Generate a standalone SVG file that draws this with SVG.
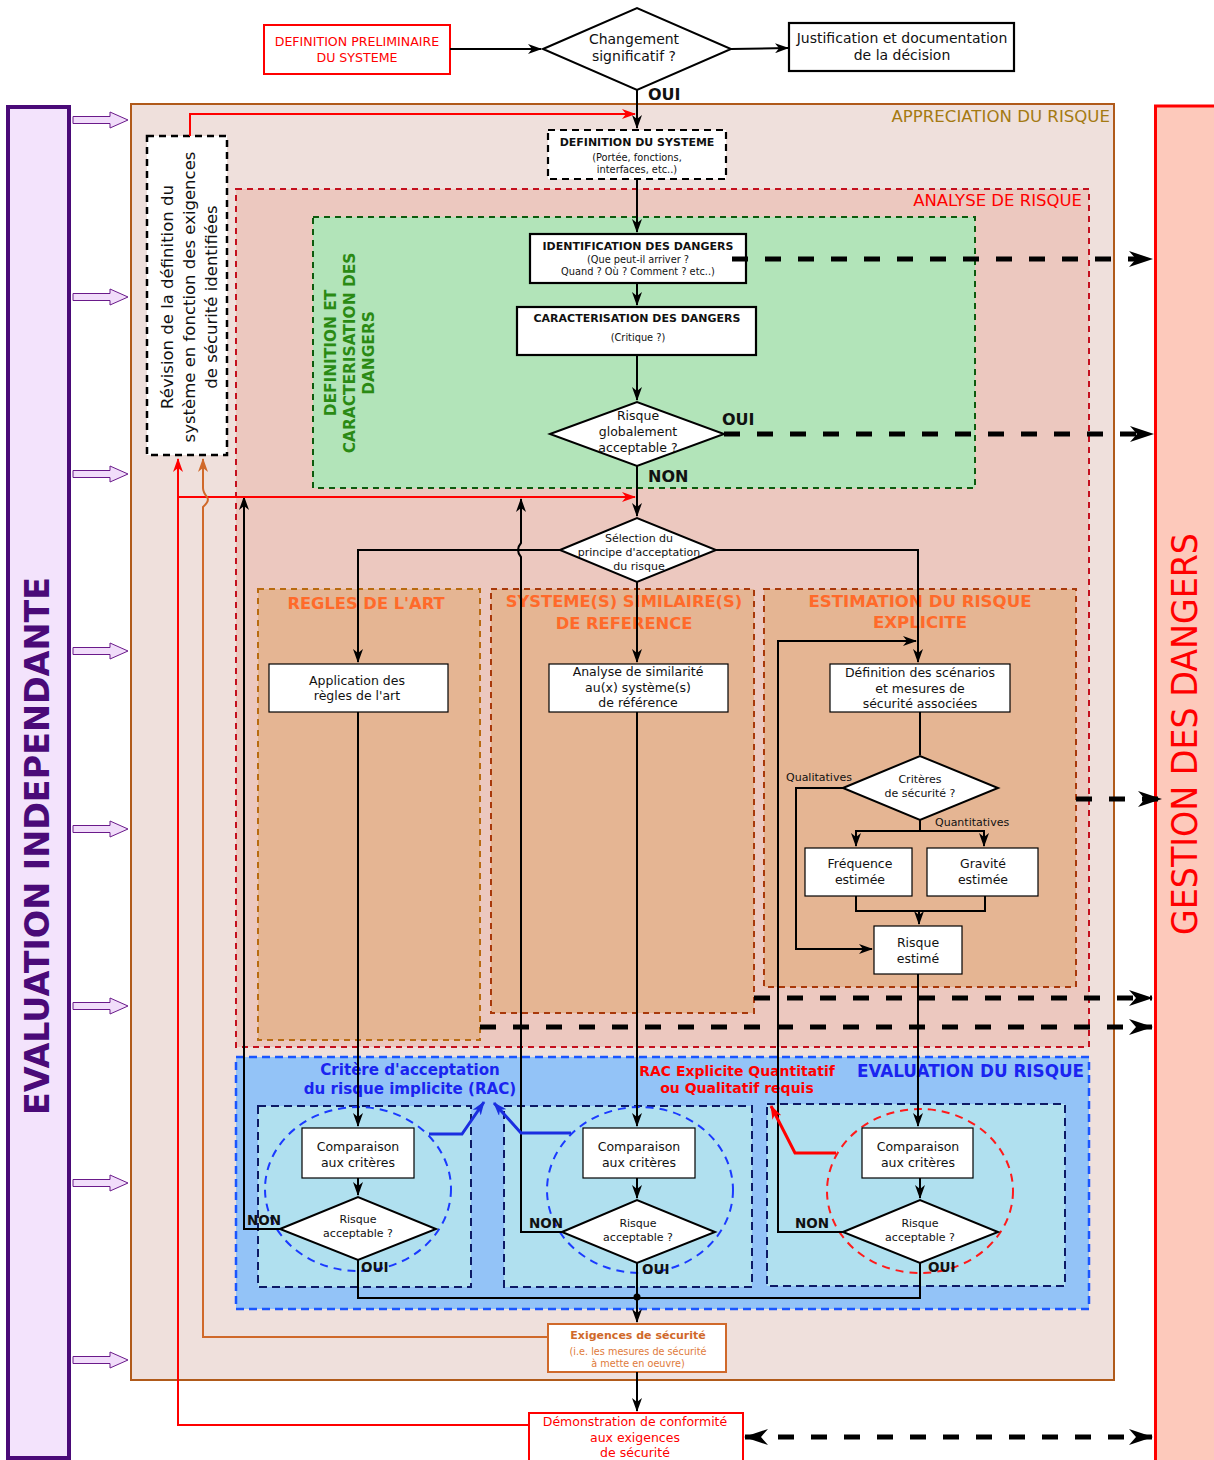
<svg xmlns="http://www.w3.org/2000/svg" width="1214" height="1460" viewBox="0 0 1214 1460">
<style>
text{font-family:"DejaVu Sans","Liberation Sans",sans-serif;fill:#111}
.c{text-anchor:middle}
.b{font-weight:bold}
.box{fill:#fff;stroke:#000;stroke-width:1.2}
.box2{fill:#fff;stroke:#000;stroke-width:2.2}
.ln{fill:none;stroke:#000;stroke-width:2}
.thk{fill:none;stroke:#000;stroke-width:5;stroke-dasharray:16 17}
.pa{fill:#f1ddfa;stroke:#6a1a8a;stroke-width:1}
</style>
<defs>
<marker id="ah" viewBox="0 0 14 10" refX="13" refY="5" markerWidth="14" markerHeight="10" markerUnits="userSpaceOnUse" orient="auto"><path d="M0,0 L14,5 L0,10 L4,5 z" fill="#000"/></marker>
<marker id="ahr" viewBox="0 0 14 10" refX="13" refY="5" markerWidth="14" markerHeight="10" markerUnits="userSpaceOnUse" orient="auto"><path d="M0,0 L14,5 L0,10 L4,5 z" fill="#f00"/></marker>
<marker id="aho" viewBox="0 0 14 10" refX="13" refY="5" markerWidth="14" markerHeight="10" markerUnits="userSpaceOnUse" orient="auto"><path d="M0,0 L14,5 L0,10 L4,5 z" fill="#d0692a"/></marker>
<marker id="ahb" viewBox="0 0 14 10" refX="13" refY="5" markerWidth="14" markerHeight="10" markerUnits="userSpaceOnUse" orient="auto"><path d="M0,0 L14,5 L0,10 L4,5 z" fill="#1a2ee0"/></marker>
<marker id="ahR" viewBox="0 0 14 10" refX="13" refY="5" markerWidth="14" markerHeight="10" markerUnits="userSpaceOnUse" orient="auto"><path d="M0,0 L14,5 L0,10 L4,5 z" fill="#f00"/></marker>
<marker id="big" viewBox="0 0 24 16" refX="23" refY="8" markerWidth="24" markerHeight="16" markerUnits="userSpaceOnUse" orient="auto-start-reverse"><path d="M0,0 L24,8 L0,16 L7,8 z" fill="#000"/></marker>
</defs>

<!-- side bars -->
<g id="evaluation-independante">
<rect x="8" y="107" width="61" height="1351" fill="#f3e3fc" stroke="#4a0a78" stroke-width="4"/>
<text transform="translate(49,846) rotate(-90)" class="c b" font-size="33" style="fill:#4a0a78" textLength="538" lengthAdjust="spacingAndGlyphs">EVALUATION INDEPENDANTE</text>
</g>
<g id="purple-arrows">
<path class="pa" d="M73,116.5 H110 V112 L128,120 L110,128 V123.5 H73 Z"/>
<path class="pa" d="M73,293.5 H110 V289 L128,297 L110,305 V300.5 H73 Z"/>
<path class="pa" d="M73,470.5 H110 V466 L128,474 L110,482 V477.5 H73 Z"/>
<path class="pa" d="M73,647.5 H110 V643 L128,651 L110,659 V654.5 H73 Z"/>
<path class="pa" d="M73,825.5 H110 V821 L128,829 L110,837 V832.5 H73 Z"/>
<path class="pa" d="M73,1002.5 H110 V998 L128,1006 L110,1014 V1009.5 H73 Z"/>
<path class="pa" d="M73,1179.5 H110 V1175 L128,1183 L110,1191 V1186.5 H73 Z"/>
<path class="pa" d="M73,1356.5 H110 V1352 L128,1360 L110,1368 V1363.5 H73 Z"/>
</g>
<g id="gestion-des-dangers">
<rect x="1155.5" y="106" width="62" height="1358" fill="#fdc9bb" stroke="#ff0000" stroke-width="3"/>
<text transform="translate(1197,734) rotate(-90)" class="c" font-size="36" style="fill:#ff0000" textLength="402" lengthAdjust="spacingAndGlyphs">GESTION DES DANGERS</text>
</g>

<!-- containers -->
<g id="appreciation-du-risque">
<rect x="131" y="104" width="983" height="1276" fill="#efe0dc" stroke="#b05a1a" stroke-width="2"/>
<text x="1110" y="122" font-size="16.6" text-anchor="end" style="fill:#a47a12">APPRECIATION DU RISQUE</text>
</g>
<g id="analyse-de-risque">
<rect x="236" y="189" width="853" height="858" fill="#ecc8bf" stroke="#c4101e" stroke-width="2" stroke-dasharray="6 5"/>
<text x="1082" y="206" font-size="16.5" text-anchor="end" style="fill:#ff0000">ANALYSE DE RISQUE</text>
</g>
<g id="definition-caracterisation">
<rect x="313" y="217" width="662" height="271" fill="#b2e4b9" stroke="#0d5a0d" stroke-width="2" stroke-dasharray="6 5"/>
<text transform="translate(336,353) rotate(-90)" class="c b" font-size="15.4" style="fill:#2a8a14">DEFINITION ET</text>
<text transform="translate(355,353) rotate(-90)" class="c b" font-size="15.4" style="fill:#2a8a14">CARACTERISATION DES</text>
<text transform="translate(374,353) rotate(-90)" class="c b" font-size="15.4" style="fill:#2a8a14">DANGERS</text>
</g>
<g id="regles-de-l-art">
<rect x="258" y="589" width="222" height="451" fill="#e5b593" stroke="#b86a10" stroke-width="2" stroke-dasharray="6 5"/>
<text x="366" y="609" class="c b" font-size="16.3" style="fill:#ff6a2a">REGLES DE L'ART</text>
</g>
<g id="systemes-similaires">
<rect x="491" y="589" width="263" height="424" fill="#e5b593" stroke="#a8380a" stroke-width="2" stroke-dasharray="6 5"/>
<text x="624" y="607" class="c b" font-size="16.3" style="fill:#ff6a2a">SYSTEME(S) SIMILAIRE(S)</text>
<text x="624" y="629" class="c b" font-size="16.3" style="fill:#ff6a2a">DE REFERENCE</text>
</g>
<g id="estimation-du-risque">
<rect x="764" y="589" width="312" height="398" fill="#e5b593" stroke="#a8380a" stroke-width="2" stroke-dasharray="6 5"/>
<text x="920" y="607" class="c b" font-size="16.6" style="fill:#ff6a2a">ESTIMATION DU RISQUE</text>
<text x="920" y="628" class="c b" font-size="16.6" style="fill:#ff6a2a">EXPLICITE</text>
</g>
<g id="evaluation-du-risque">
<rect x="236" y="1057" width="853" height="252" fill="#93c3f7" stroke="#1a55ff" stroke-width="2.5" stroke-dasharray="8 5"/>
<text x="1084" y="1077" font-size="16.8" text-anchor="end" class="b" style="fill:#1a24f0">EVALUATION DU RISQUE</text>
<text x="410" y="1075" class="c b" font-size="15.1" style="fill:#1a24f0">Critère d'acceptation</text>
<text x="410" y="1094" class="c b" font-size="15.1" style="fill:#1a24f0">du risque implicite (RAC)</text>
<text x="737" y="1076" class="c b" font-size="14" style="fill:#ff0000">RAC Explicite Quantitatif</text>
<text x="737" y="1093" class="c b" font-size="14" style="fill:#ff0000">ou Qualitatif requis</text>
<rect x="258" y="1106" width="213" height="181" fill="#b0e0ef" stroke="#0d1a66" stroke-width="2" stroke-dasharray="8 5"/>
<rect x="504" y="1106" width="248" height="181" fill="#b0e0ef" stroke="#0d1a66" stroke-width="2" stroke-dasharray="8 5"/>
<rect x="767" y="1104" width="298" height="182" fill="#b0e0ef" stroke="#0d1a66" stroke-width="2" stroke-dasharray="8 5"/>
<ellipse cx="358" cy="1189" rx="93" ry="82" fill="none" stroke="#1a3aff" stroke-width="2" stroke-dasharray="8 6"/>
<ellipse cx="640" cy="1190" rx="93" ry="83" fill="none" stroke="#1a3aff" stroke-width="2" stroke-dasharray="8 6"/>
<ellipse cx="920" cy="1191" rx="93" ry="82" fill="none" stroke="#ff1a1a" stroke-width="2" stroke-dasharray="8 6"/>
</g>

<!-- nodes -->
<g id="definition-preliminaire">
<rect x="264" y="25" width="186" height="49" fill="#fff" stroke="#ff0000" stroke-width="2"/>
<text x="357" y="46" class="c" font-size="12.6" style="fill:#ff0000">DEFINITION PRELIMINAIRE</text>
<text x="357" y="62" class="c" font-size="12.6" style="fill:#ff0000">DU SYSTEME</text>
</g>
<g id="changement-significatif">
<path d="M543,49 L637,8 L731,49 L637,90 Z" fill="#fff" stroke="#000" stroke-width="2"/>
<text x="634" y="44" class="c" font-size="14">Changement</text>
<text x="634" y="61" class="c" font-size="14">significatif ?</text>
</g>
<g id="justification">
<rect x="789" y="23" width="225" height="48" class="box2"/>
<text x="902" y="43" class="c" font-size="14">Justification et documentation</text>
<text x="902" y="60" class="c" font-size="14">de la décision</text>
</g>
<g id="revision">
<rect x="147" y="136" width="80" height="319" fill="#fff" stroke="#000" stroke-width="2.5" stroke-dasharray="7 5"/>
<text transform="translate(173,297) rotate(-90)" class="c" font-size="16.5">Révision de la définition du</text>
<text transform="translate(195,297) rotate(-90)" class="c" font-size="16.5">système en fonction des exigences</text>
<text transform="translate(217,297) rotate(-90)" class="c" font-size="16.5">de sécurité identifiées</text>
</g>
<g id="definition-du-systeme">
<rect x="548" y="130" width="178" height="49" fill="#fff" stroke="#000" stroke-width="2.2" stroke-dasharray="7 5"/>
<text x="637" y="146" class="c b" font-size="11">DEFINITION DU SYSTEME</text>
<text x="637" y="160.5" class="c" font-size="9.8">(Portée, fonctions,</text>
<text x="637" y="173" class="c" font-size="9.8">interfaces, etc..)</text>
</g>
<g id="identification">
<rect x="530" y="234" width="216" height="49" class="box2"/>
<text x="638" y="250" class="c b" font-size="11">IDENTIFICATION DES DANGERS</text>
<text x="638" y="263" class="c" font-size="9.8">(Que peut-il arriver ?</text>
<text x="638" y="275" class="c" font-size="9.8">Quand ? Où ? Comment ? etc..)</text>
</g>
<g id="caracterisation">
<rect x="517" y="307" width="239" height="48" class="box2"/>
<text x="637" y="322" class="c b" font-size="11">CARACTERISATION DES DANGERS</text>
<text x="638" y="341" class="c" font-size="9.8">(Critique ?)</text>
</g>
<g id="risque-globalement">
<path d="M550,434 L637,402 L724,434 L637,466 Z" fill="#fff" stroke="#000" stroke-width="2"/>
<text x="638" y="420" class="c" font-size="12.5">Risque</text>
<text x="638" y="436" class="c" font-size="12.5">globalement</text>
<text x="638" y="452" class="c" font-size="12.5">acceptable ?</text>
</g>
<g id="selection-principe">
<path d="M560,550 L637,518 L716,550 L637,582 Z" fill="#fff" stroke="#000" stroke-width="2"/>
<text x="639" y="542" class="c" font-size="11">Sélection du</text>
<text x="639" y="556" class="c" font-size="11">principe d'acceptation</text>
<text x="639" y="570" class="c" font-size="11">du risque</text>
</g>
<g id="application-regles">
<rect x="269" y="664" width="179" height="48" class="box"/>
<text x="357" y="685" class="c" font-size="12.5">Application des</text>
<text x="357" y="700" class="c" font-size="12.5">règles de l'art</text>
</g>
<g id="analyse-similarite">
<rect x="549" y="664" width="179" height="48" class="box"/>
<text x="638" y="676" class="c" font-size="12.5">Analyse de similarité</text>
<text x="638" y="692" class="c" font-size="12.5">au(x) système(s)</text>
<text x="638" y="707" class="c" font-size="12.5">de référence</text>
</g>
<g id="definition-scenarios">
<rect x="830" y="664" width="180" height="48" class="box"/>
<text x="920" y="677" class="c" font-size="12.5">Définition des scénarios</text>
<text x="920" y="693" class="c" font-size="12.5">et mesures de</text>
<text x="920" y="708" class="c" font-size="12.5">sécurité associées</text>
</g>
<g id="criteres-securite">
<path d="M843,788 L920,756 L998,788 L920,820 Z" fill="#fff" stroke="#000" stroke-width="2"/>
<text x="920" y="783" class="c" font-size="11">Critères</text>
<text x="920" y="797" class="c" font-size="11">de sécurité ?</text>
<text x="786" y="781" font-size="11">Qualitatives</text>
<text x="935" y="826" font-size="11">Quantitatives</text>
</g>
<g id="frequence">
<rect x="805" y="848" width="107" height="48" class="box"/>
<text x="860" y="868" class="c" font-size="12.5">Fréquence</text>
<text x="860" y="884" class="c" font-size="12.5">estimée</text>
</g>
<g id="gravite">
<rect x="927" y="848" width="111" height="48" class="box"/>
<text x="983" y="868" class="c" font-size="12.5">Gravité</text>
<text x="983" y="884" class="c" font-size="12.5">estimée</text>
</g>
<g id="risque-estime">
<rect x="874" y="926" width="88" height="48" class="box"/>
<text x="918" y="947" class="c" font-size="12.5">Risque</text>
<text x="918" y="963" class="c" font-size="12.5">estimé</text>
</g>
<g id="comparaison-1">
<rect x="302" y="1128" width="112" height="50" class="box"/>
<text x="358" y="1151" class="c" font-size="12.5">Comparaison</text>
<text x="358" y="1167" class="c" font-size="12.5">aux critères</text>
</g>
<g id="acceptable-1">
<path d="M280,1229 L358,1197 L436,1229 L358,1260 Z" fill="#fff" stroke="#000" stroke-width="2"/>
<text x="358" y="1223" class="c" font-size="11">Risque</text>
<text x="358" y="1237" class="c" font-size="11">acceptable ?</text>
</g>
<g id="comparaison-2">
<rect x="583" y="1128" width="112" height="50" class="box"/>
<text x="639" y="1151" class="c" font-size="12.5">Comparaison</text>
<text x="639" y="1167" class="c" font-size="12.5">aux critères</text>
</g>
<g id="acceptable-2">
<path d="M562,1232 L637,1200 L715,1232 L637,1263 Z" fill="#fff" stroke="#000" stroke-width="2"/>
<text x="638" y="1227" class="c" font-size="11">Risque</text>
<text x="638" y="1241" class="c" font-size="11">acceptable ?</text>
</g>
<g id="comparaison-3">
<rect x="862" y="1128" width="111" height="50" class="box"/>
<text x="918" y="1151" class="c" font-size="12.5">Comparaison</text>
<text x="918" y="1167" class="c" font-size="12.5">aux critères</text>
</g>
<g id="acceptable-3">
<path d="M843,1232 L920,1200 L998,1232 L920,1263 Z" fill="#fff" stroke="#000" stroke-width="2"/>
<text x="920" y="1227" class="c" font-size="11">Risque</text>
<text x="920" y="1241" class="c" font-size="11">acceptable ?</text>
</g>
<g id="exigences">
<rect x="548" y="1324" width="178" height="48" fill="#fff" stroke="#d0692a" stroke-width="2"/>
<text x="638" y="1339" class="c b" font-size="11" style="fill:#d0692a">Exigences de sécurité</text>
<text x="638" y="1355" class="c" font-size="9.7" style="fill:#e07a3a">(i.e. les mesures de sécurité</text>
<text x="638" y="1367" class="c" font-size="9.7" style="fill:#e07a3a">à mette en oeuvre)</text>
</g>
<g id="demonstration">
<rect x="529" y="1413" width="214" height="52" fill="#fff" stroke="#ff0000" stroke-width="2"/>
<text x="635" y="1426" class="c" font-size="12.5" style="fill:#ff0000">Démonstration de conformité</text>
<text x="635" y="1442" class="c" font-size="12.5" style="fill:#ff0000">aux exigences</text>
<text x="635" y="1457" class="c" font-size="12.5" style="fill:#ff0000">de sécurité</text>
</g>

<!-- connectors -->
<g id="connectors">
<path class="ln" d="M450,49 H541" marker-end="url(#ah)"/>
<path class="ln" d="M731,49 L788,48" marker-end="url(#ah)"/>
<path class="ln" d="M637,90 V128" marker-end="url(#ah)"/>
<path class="ln" d="M637,179 V232" marker-end="url(#ah)"/>
<path class="ln" d="M637,283 V305" marker-end="url(#ah)"/>
<path class="ln" d="M637,355 V400" marker-end="url(#ah)"/>
<path class="ln" d="M637,466 V516" marker-end="url(#ah)"/>
<path class="ln" d="M560,550 H358 V662" marker-end="url(#ah)"/>
<path class="ln" d="M637,582 V662" marker-end="url(#ah)"/>
<path class="ln" d="M716,550 H918 V662" marker-end="url(#ah)"/>
<path class="ln" d="M358,712 V1126" marker-end="url(#ah)"/>
<path class="ln" d="M637,712 V1126" marker-end="url(#ah)"/>
<path class="ln" d="M920,712 V755"/>
<path class="ln" d="M843,788 H796 V949 H872" marker-end="url(#ah)"/>
<path class="ln" d="M920,820 V831 H856 V846" marker-end="url(#ah)"/>
<path class="ln" d="M920,831 H984 V846" marker-end="url(#ah)"/>
<path class="ln" d="M856,896 V911 H985 V896"/>
<path class="ln" d="M919,911 V924" marker-end="url(#ah)"/>
<path class="ln" d="M918,974 V1126" marker-end="url(#ah)"/>
<path class="ln" d="M358,1178 V1195" marker-end="url(#ah)"/>
<path class="ln" d="M637,1178 V1198" marker-end="url(#ah)"/>
<path class="ln" d="M920,1178 V1198" marker-end="url(#ah)"/>
<path class="ln" d="M280,1229 H244 V497" marker-end="url(#ah)"/>
<path class="ln" d="M562,1232 H521 V557 Q515,550 521,543 V499" marker-end="url(#ah)"/>
<path class="ln" d="M843,1232 H778 V641 H916" marker-end="url(#ah)"/>
<path class="ln" d="M358,1260 V1298 H920 V1263"/>
<path class="ln" d="M637,1263 V1322" marker-end="url(#ah)"/>
<circle cx="637" cy="1297" r="3.5" fill="#000"/>
<path class="ln" d="M637,1372 V1411" stroke-width="1.5" marker-end="url(#ah)"/>
<path d="M529,1425 H178 V459" fill="none" stroke="#ff0000" stroke-width="2" marker-end="url(#ahr)"/>
<path d="M178,497 H635" fill="none" stroke="#ff0000" stroke-width="2" marker-end="url(#ahr)"/>
<path d="M190,136 V114 H635" fill="none" stroke="#ff0000" stroke-width="2" marker-end="url(#ahr)"/>
<path d="M548,1337 H203 V507 Q210,501 207,497 Q203,492 203,488 V459" fill="none" stroke="#d0692a" stroke-width="2" marker-end="url(#aho)"/>
<path d="M429,1134 H462 L484,1102" fill="none" stroke="#1a2ee0" stroke-width="3" marker-end="url(#ahb)"/>
<path d="M571,1133 H521 L494,1103" fill="none" stroke="#1a2ee0" stroke-width="3" marker-end="url(#ahb)"/>
<path d="M836,1153 H795 L771,1106" fill="none" stroke="#ff0000" stroke-width="3" marker-end="url(#ahR)"/>
<path class="thk" d="M732,259 H1152" marker-end="url(#big)"/>
<path class="thk" d="M724,434 H1153" marker-end="url(#big)"/>
<path class="thk" d="M1076,799 H1161" marker-end="url(#big)"/>
<path class="thk" d="M754,998 H1152" marker-end="url(#big)"/>
<path class="thk" d="M480,1027 H1152" marker-end="url(#big)"/>
<path class="thk" d="M745,1437 H1152" marker-start="url(#big)" marker-end="url(#big)"/>
</g>

<!-- connector labels -->
<g id="labels">
<text x="648" y="100" font-size="16" class="b">OUI</text>
<text x="722" y="425" font-size="16" class="b">OUI</text>
<text x="648" y="482" font-size="16" class="b">NON</text>
<text x="247" y="1225" font-size="13.5" class="b">NON</text>
<text x="361" y="1272" font-size="13.5" class="b">OUI</text>
<text x="529" y="1228" font-size="13.5" class="b">NON</text>
<text x="642" y="1274" font-size="13.5" class="b">OUI</text>
<text x="795" y="1228" font-size="13.5" class="b">NON</text>
<text x="928" y="1272" font-size="13.5" class="b">OUI</text>
</g>
</svg>
